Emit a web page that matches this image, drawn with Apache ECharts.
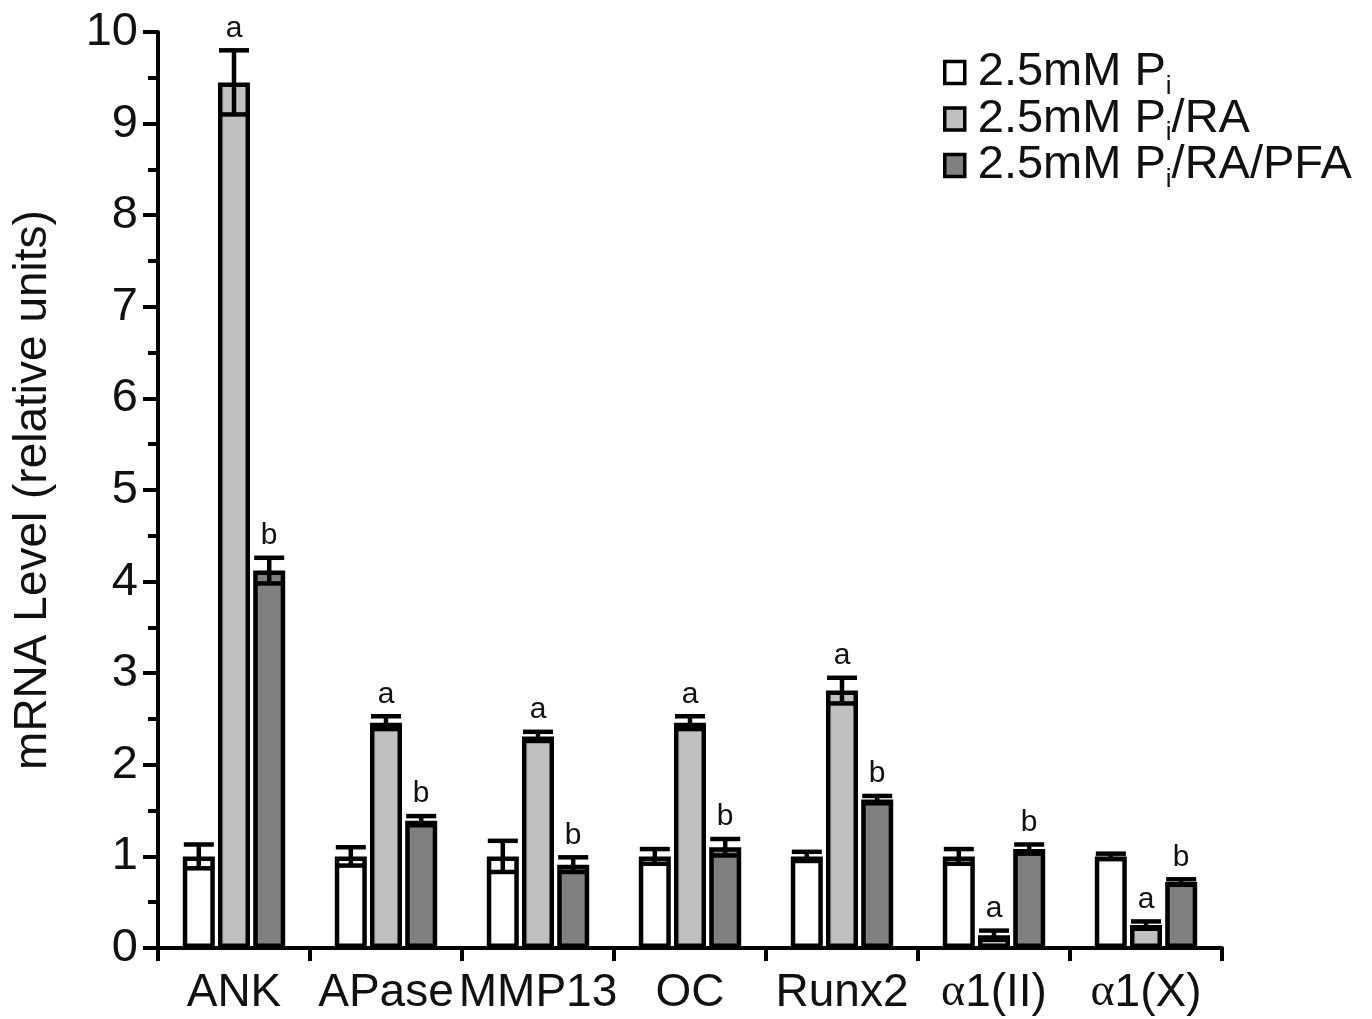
<!DOCTYPE html>
<html>
<head>
<meta charset="utf-8">
<script src="https://cdn.jsdelivr.net/npm/echarts@6/dist/echarts.min.js"></script>
<style>html,body{margin:0;padding:0;background:#fff;}#c{width:1372px;height:1019px;}</style>
</head>
<body>
<div id="c"></div>
<script>
const categories = ['ANK', 'APase', 'MMP13', 'OC', 'Runx2', 'α1(II)', 'α1(X)'];
const seriesNames = ['2.5mM Pi', '2.5mM Pi/RA', '2.5mM Pi/RA/PFA'];
const piValues = [1.0, 1.0, 1.0, 1.0, 1.0, 1.0, 1.0];
const piErrors = [0.13, 0.10, 0.17, 0.08, 0.05, 0.08, 0.03];
const piRAValues = [9.45, 2.46, 2.31, 2.46, 2.81, 0.14, 0.25];
const piRAErrors = [0.35, 0.07, 0.05, 0.07, 0.14, 0.05, 0.04];
const piRAPFAValues = [4.12, 1.39, 0.91, 1.10, 1.62, 1.08, 0.72];
const piRAPFAErrors = [0.14, 0.05, 0.08, 0.09, 0.04, 0.05, 0.03];
const piLetters = ['', '', '', '', '', '', ''];
const piRALetters = ['a', 'a', 'a', 'a', 'a', 'a', 'a'];
const piRAPFALetters = ['b', 'b', 'b', 'b', 'b', 'b', 'b'];
const yTicks = [0, 1, 2, 3, 4, 5, 6, 7, 8, 9, 10];

const colors = ['#ffffff', '#c0c0c0', '#808080'];
const BAR_W = 32;
const BAR_GAP = 0.1;
const STEP = BAR_W * (1 + BAR_GAP);
const FONT = '"Liberation Sans", Arial, sans-serif';

const values = [piValues, piRAValues, piRAPFAValues];
const errors = [piErrors, piRAErrors, piRAPFAErrors];
const letters = [piLetters, piRALetters, piRAPFALetters];

const chart = echarts.init(document.getElementById('c'), null, {renderer: 'canvas'});

const barSeries = seriesNames.map((name, i) => ({
  name: name,
  type: 'bar',
  data: values[i],
  barWidth: BAR_W,
  barGap: (BAR_GAP * 100) + '%',
  itemStyle: {color: colors[i], borderColor: '#000', borderWidth: 4.5},
  emphasis: {disabled: true},
  z: 2
}));

const errSeries = seriesNames.map((name, i) => ({
  type: 'custom',
  name: name + ' err',
  z: 5,
  silent: true,
  data: values[i].map((v, k) => [k, v, errors[i][k]]),
  encode: {x: 0, y: 1},
  renderItem: function (params, api) {
    const k = api.value(0), v = api.value(1), e = api.value(2);
    const letter = letters[i][k];
    const c = api.coord([k, v]);
    const x = c[0] + (i - 1) * STEP;
    const yTop = api.coord([k, v + e])[1];
    const yBot = api.coord([k, v - e])[1];
    const half = 15;
    const st = {stroke: '#000', lineWidth: 4.5};
    const children = [
      {type: 'line', shape: {x1: x, y1: yTop, x2: x, y2: yBot}, style: st},
      {type: 'line', shape: {x1: x - half, y1: yTop, x2: x + half, y2: yTop}, style: st},
      {type: 'line', shape: {x1: x - half, y1: yBot, x2: x + half, y2: yBot}, style: st}
    ];
    if (letter) {
      children.push({type: 'text', style: {text: letter, x: x, y: yTop - 7, align: 'center', verticalAlign: 'bottom',
        font: '30px ' + FONT, fill: '#111'}});
    }
    return {type: 'group', children: children};
  }
}));

chart.setOption({
  animation: false,
  backgroundColor: '#fff',
  textStyle: {fontFamily: FONT, color: '#000'},
  grid: {left: 158, right: 150, top: 32, bottom: 71, containLabel: false, outerBoundsMode: 'none'},
  legend: {
    data: seriesNames,
    orient: 'vertical',
    left: 938,
    top: 44,
    itemGap: -4,
    itemWidth: 20,
    itemHeight: 22,
    icon: 'rect',
    itemStyle: {borderColor: '#000', borderWidth: 3.5},
    selectedMode: false,
    formatter: function (n) { return n.replace('Pi', 'P{sub|i}'); },
    textStyle: {
      fontSize: 47, color: '#111', fontFamily: FONT, padding: [0, 0, 0, 8],
      rich: {sub: {fontSize: 26, padding: [28, 0, 0, 0], color: '#111', fontFamily: FONT}}
    }
  },
  xAxis: {
    type: 'category',
    data: categories,
    boundaryGap: true,
    axisLine: {lineStyle: {color: '#000', width: 4}},
    axisTick: {show: true, inside: false, length: 13, interval: 0, lineStyle: {width: 4, color: '#000'}},
    axisLabel: {
      interval: 0,
      fontSize: 46, color: '#111', margin: 22,
      formatter: function (v) { return v.replace('α', '{g|α}'); },
      rich: {g: {fontSize: 46, fontFamily: '"Liberation Serif", "DejaVu Serif", serif', color: '#111'}}
    }
  },
  yAxis: {
    type: 'value',
    min: 0, max: 10, interval: 1,
    name: 'mRNA Level (relative units)',
    nameLocation: 'middle',
    nameGap: 102,
    nameTextStyle: {fontSize: 46, color: '#111'},
    axisLine: {show: true, lineStyle: {color: '#000', width: 4}},
    axisTick: {show: true, inside: false, length: 15, lineStyle: {width: 4, color: '#000'}},
    minorTick: {show: true, splitNumber: 2, length: 10, lineStyle: {width: 4, color: '#000'}},
    splitLine: {show: false},
    axisLabel: {fontSize: 47, color: '#111', margin: 20,
      formatter: function (v) { return yTicks.indexOf(v) >= 0 ? String(v) : ''; }}
  },
  series: barSeries.concat(errSeries)
});
</script>
</body>
</html>
